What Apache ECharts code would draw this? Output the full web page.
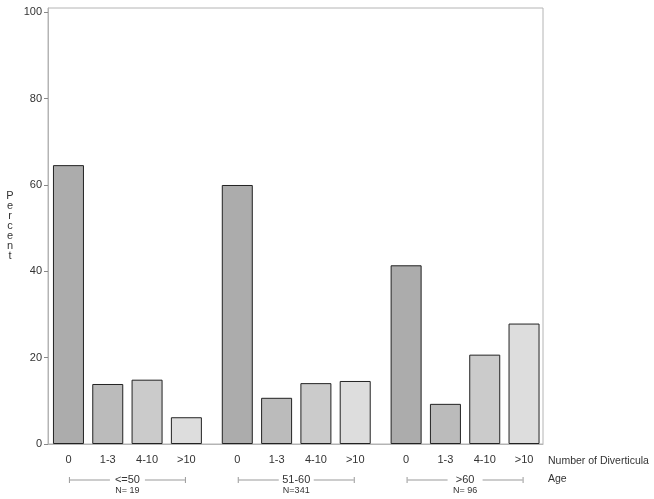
<!DOCTYPE html>
<html><head><meta charset="utf-8">
<script src="https://cdn.jsdelivr.net/npm/echarts@6/dist/echarts.min.js"></script>
<style>html,body{margin:0;padding:0;background:#fff}#c{width:654px;height:499px}</style>
</head><body><div id="c"></div>
<script>
const divCats = ['0', '1-3', '4-10', '>10'];
const ageGroups = ['<=50', '51-60', '>60'];
const groupN = ['N= 19', 'N=341', 'N= 96'];
const pct0 = [64.6, 60.0, 41.4];
const pct13 = [13.9, 10.7, 9.3];
const pct410 = [14.9, 14.1, 20.7];
const pctGt10 = [6.2, 14.6, 27.9];
const yTicks = [0, 20, 40, 60, 80, 100];
const barColors = ['#acacac', '#bbbbbb', '#cbcbcb', '#dddddd'];
const seriesData = [pct0, pct13, pct410, pctGt10];

const FONT = 'Liberation Sans, Arial, sans-serif';
const chart = echarts.init(document.getElementById('c'), null, {renderer: 'canvas'});
const yMin = 0, yMax = 101;

const option = {
  animation: false,
  backgroundColor: '#fff',
  textStyle: {fontFamily: FONT},
  grid: [
    {left: 43, right: 104.5, top: 8, bottom: 55, containLabel: false},
    {left: 48, right: 111, top: 8, bottom: 55, containLabel: false, show: true, borderColor: '#b4b4b4', borderWidth: 1}
  ],
  xAxis: [
    {
      type: 'category', gridIndex: 0, data: ageGroups,
      axisLine: {show: false}, axisTick: {show: false},
      axisLabel: {
        margin: 30, interval: 0, fontFamily: FONT,
        formatter: (v, i) => `{cap|}{ln|}{t|${v}}{ln|}{cap|}\n{n|${groupN[i]}}`,
        rich: {
          cap: {width: 1, height: 6, backgroundColor: '#999'},
          ln: {width: 40, height: 1, backgroundColor: '#999'},
          t: {width: 35, align: 'center', fontSize: 11, lineHeight: 12, color: '#333', fontFamily: FONT},
          n: {fontSize: 9, lineHeight: 10, color: '#333', fontFamily: FONT}
        }
      }
    },
    {
      type: 'value', gridIndex: 1, min: 0, max: 1,
      axisLine: {show: true, lineStyle: {color: '#b4b4b4'}}, axisTick: {show: false},
      axisLabel: {show: false}, splitLine: {show: false}
    }
  ],
  yAxis: [
    {type: 'value', gridIndex: 0, min: yMin, max: yMax, show: false, splitLine: {show: false}},
    {
      type: 'value', gridIndex: 1, min: yMin, max: yMax,
      name: 'P\ne\nr\nc\ne\nn\nt', nameLocation: 'middle', nameRotate: 0, nameGap: 38,
      nameTextStyle: {fontSize: 11, lineHeight: 10, color: '#333', fontFamily: FONT, align: 'center'},
      axisLine: {show: true, lineStyle: {color: '#b4b4b4'}},
      axisTick: {show: true, length: 4, lineStyle: {color: '#888'}, customValues: yTicks},
      axisLabel: {margin: 6, fontSize: 11, color: '#333', fontFamily: FONT, customValues: yTicks},
      splitLine: {show: false}
    }
  ],
  series: divCats.map((name, k) => ({
    type: 'bar', name: name, xAxisIndex: 0, yAxisIndex: 0,
    data: seriesData[k],
    barWidth: 31, barGap: '26.8%',
    itemStyle: {color: barColors[k], borderColor: '#222', borderWidth: 1},
    label: {
      show: true, position: 'bottom', distance: 10, formatter: () => name,
      fontSize: 11, color: '#333', fontFamily: FONT
    }
  })),
  graphic: [
    {type: 'text', left: 548, top: 456, style: {text: 'Number of Diverticula', font: '10.5px ' + FONT, fill: '#333'}},
    {type: 'text', left: 548, top: 474, style: {text: 'Age', font: '10.5px ' + FONT, fill: '#333'}}
  ]
};
chart.setOption(option);
</script>
</body></html>
